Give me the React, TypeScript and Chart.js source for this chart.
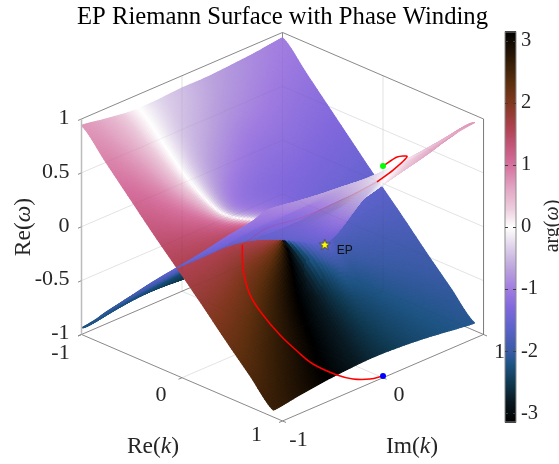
import React, { useEffect, useRef } from "react";
import { Chart, registerables } from "chart.js";

Chart.register(...registerables);

const reNodes = [-1, -0.76, -0.52, -0.28, -0.05, 0.19, 0.43, 0.67, 0.91];
const imNodes = [-1, -0.75, -0.5, -0.25, 0, 0.25, 0.5, 0.75, 1];

// Re(omega) of the main sheet, one row per imNodes entry (the second sheet is its negative)
const sheetRe = [
  [0.94, 0.7, 0.46, 0.22, 0.0, -0.23, -0.47, -0.7, -0.935],
  [0.9, 0.67, 0.44, 0.21, 0.0, -0.22, -0.45, -0.68, -0.9],
  [0.87, 0.65, 0.42, 0.2, 0.0, -0.22, -0.44, -0.65, -0.87],
  [0.87, 0.64, 0.41, 0.19, 0.05, -0.1, -0.4, -0.62, -0.85],
  [0.885, 0.65, 0.42, 0.24, 0.14, 0.07, -0.03, -0.42, -0.84],
  [0.885, 0.65, 0.43, 0.26, 0.15, 0.03, -0.25, -0.55, -0.85],
  [0.9, 0.67, 0.45, 0.25, 0.1, -0.08, -0.32, -0.58, -0.87],
  [0.92, 0.68, 0.45, 0.22, 0.05, -0.15, -0.4, -0.63, -0.9],
  [0.95, 0.71, 0.47, 0.23, 0.0, -0.23, -0.47, -0.7, -0.93],
];
// Im(omega) of the main sheet
const sheetIm = [
  [0.82, 0.82, 0.8, 0.78, 0.88, 0.84, 0.73, 0.62, 0.53],
  [0.52, 0.52, 0.5, 0.5, 0.63, 0.59, 0.48, 0.37, 0.28],
  [0.1, 0.1, 0.1, 0.2, 0.38, 0.34, 0.23, 0.12, 0.03],
  [-0.25, -0.26, -0.28, -0.22, 0.15, 0.09, -0.02, -0.13, -0.22],
  [-0.45, -0.48, -0.55, -0.6, -0.3, -0.16, -0.27, -0.38, -0.47],
  [-0.68, -0.7, -0.8, -0.78, -0.7, -0.41, -0.52, -0.63, -0.72],
  [-0.91, -0.91, -0.95, -0.9, -0.8, -0.66, -0.77, -0.88, -0.97],
  [-1.16, -1.16, -1.15, -1.04, -0.87, -0.91, -1.02, -1.13, -1.22],
  [-1.41, -1.41, -1.4, -1.29, -1.12, -1.16, -1.27, -1.38, -1.47],
];
// Im(omega) of the thin second sheet
const ribbonIm = [
  [-1.2, -1.2, -1.2, -1.25, -1.45, -1.62, -1.45, -1.3, -1.2],
  [-1.05, -1.05, -1.05, -1.05, -1.2, -1.37, -1.2, -1.05, -0.95],
  [-0.9, -0.9, -0.9, -0.9, -0.95, -1.12, -1.0, -0.85, -0.72],
  [-0.7, -0.7, -0.7, -0.7, -0.75, -0.87, -0.85, -0.7, -0.5],
  [-0.55, -0.55, -0.55, -0.55, -0.55, -0.62, -0.6, -0.42, -0.25],
  [-0.45, -0.45, -0.45, -0.4, -0.35, -0.37, -0.3, -0.12, 0.05],
  [-0.35, -0.35, -0.35, -0.2, -0.05, -0.12, 0.02, 0.2, 0.3],
  [-0.3, -0.3, -0.3, -0.1, 0.1, 0.13, 0.3, 0.45, 0.55],
  [-0.25, -0.25, -0.25, 0.0, 0.3, 0.38, 0.55, 0.7, 0.8],
];

// Winding path, visible pieces
const pathLowRe = [1, 0.988, 0.946, 0.887, 0.767, 0.668, 0.542, 0.385, 0.222, 0.07, 0.01];
const pathLowIm = [0, -0.117, -0.245, -0.344, -0.464, -0.524, -0.567, -0.579, -0.545, -0.463, -0.41];
const pathLowZ = [-0.984, -0.97, -0.935, -0.882, -0.78, -0.675, -0.56, -0.432, -0.325, -0.18, 0];
const pathHighRe = [0.363, 0.531, 0.83, 0.977, 1];
const pathHighIm = [0.577, 0.569, 0.41, 0.163, 0];
const pathHighZ = [0.33, 0.51, 0.82, 0.974, 0.965];
const pathHiddenRe = [0.01, -0.16, -0.08, 0.14, 0.363];
const pathHiddenIm = [-0.41, 0, 0.29, 0.507, 0.577];
const pathHiddenZ = [0, -0.08, -0.058, 0.129, 0.33];

const kTicks = [-1, 0, 1];
const zTicks = [-1, -0.5, 0, 0.5, 1];
const cbTicks = [-3, -2, -1, 0, 1, 2, 3];
const epPoint = { re: 0.42, im: 0, z: 0 };

const cmapVal = [-3.1416, -2.8, -2.5, -2.2, -2, -1.6, -1.3, -1, -0.7, -0.4, -0.1, 0, 0.3, 0.6, 1, 1.3, 1.6, 2, 2.3, 2.6, 2.9, 3.1416];
const cmapCol = [
  "#000000", "#0a1a22", "#103a52", "#1f5585", "#3a5ba5", "#5f63cc", "#8068dc", "#a07ce0", "#b9a0dd", "#d6c6e6", "#f5f2f6", "#ffffff",
  "#eccbdc", "#e3a9c6", "#d5709d", "#c4567a", "#ae4250", "#80381f", "#5e3010", "#3a2008", "#1a0f04", "#000000",
];

const rgb = cmapCol.map((h) => [parseInt(h.slice(1, 3), 16), parseInt(h.slice(3, 5), 16), parseInt(h.slice(5, 7), 16)]);
function color(v: number) {
  let i = 0;
  while (i < cmapVal.length - 2 && v > cmapVal[i + 1]) i++;
  const t = Math.max(0, Math.min(1, (v - cmapVal[i]) / (cmapVal[i + 1] - cmapVal[i])));
  const c = rgb[i].map((a, j) => Math.round(a + (rgb[i + 1][j] - a) * t));
  return `rgb(${c[0]},${c[1]},${c[2]})`;
}

const px = (re: number, im: number) => re + im;
const py = (re: number, im: number, z: number) => z - 0.4014 * (re - im);
const P = (re: number, im: number, z: number) => ({ x: px(re, im), y: py(re, im, z) });
const GAP = { x: NaN, y: NaN };
function segs(list: number[][]) {
  const out: any[] = [];
  list.forEach((s) => out.push(P(s[0], s[1], s[2]), P(s[3], s[4], s[5]), GAP));
  return out;
}

const gridSegs: number[][] = [];
zTicks.forEach((z) => {
  if (z > -1 && z < 1) {
    gridSegs.push([-1, -1, z, -1, 1, z]);
    gridSegs.push([-1, 1, z, 1, 1, z]);
  }
});
gridSegs.push([-1, 0, -1, -1, 0, 1], [0, 1, -1, 0, 1, 1], [0, -1, -1, 0, 1, -1], [-1, 0, -1, 1, 0, -1]);
const boxSegs = [
  [-1, -1, 1, -1, 1, 1],
  [-1, 1, 1, 1, 1, 1],
  [1, 1, 1, 1, 1, -1],
  [-1, -1, -1, 1, -1, -1],
  [1, -1, -1, 1, 1, -1],
  [-1, -1, -1, -1, 1, -1],
  [-1, 1, -1, 1, 1, -1],
  [-1, 1, -1, -1, 1, 1],
];
zTicks.forEach((z) => boxSegs.push([-1, -1, z, -1, -1.035, z]));
kTicks.forEach((v) => {
  boxSegs.push([v, -1, -1, v, -1.035, -1]);
  boxSegs.push([1, v, -1, 1.035, v, -1]);
});
const leftEdge = [[-1, -1, -1, -1, -1, 1]];

function cr(a: number, b: number, c: number, d: number, t: number) {
  return 0.5 * (2 * b + (c - a) * t + (2 * a - 5 * b + 4 * c - d) * t * t + (3 * b - a - 3 * c + d) * t * t * t);
}
function sample(tb: number[][], u: number, v: number) {
  const n = tb[0].length,
    m = tb.length;
  const i = Math.min(n - 2, Math.floor(u)),
    j = Math.min(m - 2, Math.floor(v));
  const s = u - i,
    t = v - j;
  const row = (r: number) => {
    const q = tb[Math.max(0, Math.min(m - 1, r))];
    return cr(q[Math.max(0, i - 1)], q[i], q[i + 1], q[Math.min(n - 1, i + 2)], s);
  };
  return cr(row(j - 1), row(j), row(j + 1), row(j + 2), t);
}

function lerp(a: number[], u: number) {
  const i = Math.min(a.length - 2, Math.floor(u));
  return a[i] + (a[i + 1] - a[i]) * (u - i);
}

const surfacePlugin = {
  id: "surface",
  afterDatasetDraw(chart: any, args: any) {
    if (args.index !== 1) return;
    const { ctx, scales } = chart;
    const sx = scales.x,
      sy = scales.y;
    const SUB = 14;
    const nu = (reNodes.length - 1) * SUB,
      nv = (imNodes.length - 1) * SUB;
    const nodes: any[][] = [];
    for (let a = 0; a <= nu; a++) {
      nodes[a] = [];
      for (let b = 0; b <= nv; b++) {
        const u = a / SUB,
          v = b / SUB;
        nodes[a][b] = {
          re: lerp(reNodes, u),
          im: lerp(imNodes, v),
          z: sample(sheetRe, u, v),
          w: sample(sheetIm, u, v),
          w2: sample(ribbonIm, u, v),
        };
      }
    }
    const cells: any[] = [];
    [1, -1].forEach((sgn) => {
      for (let a = 0; a < nu; a++)
        for (let b = 0; b < nv; b++) {
          const q = [nodes[a][b], nodes[a + 1][b], nodes[a + 1][b + 1], nodes[a][b + 1]];
          const pts = q.map((n) => [
            sx.getPixelForValue(px(n.re, n.im)),
            sy.getPixelForValue(py(n.re, n.im, sgn * n.z)),
          ]);
          const re = (q[0].re + q[2].re) / 2,
            im = (q[0].im + q[2].im) / 2;
          const z = (sgn * (q[0].z + q[1].z + q[2].z + q[3].z)) / 4;
          const w = sgn > 0 ? (q[0].w + q[1].w + q[2].w + q[3].w) / 4 : (q[0].w2 + q[1].w2 + q[2].w2 + q[3].w2) / 4;
          cells.push({ pts, d: 0.638 * (re - im) + 0.363 * z, z, col: color(Math.atan2(w, z)) });
        }
    });
    cells.sort((a, b) => a.d - b.d);
    const paint = (g: any, c: any) => {
      g.beginPath();
      g.moveTo(c.pts[0][0], c.pts[0][1]);
      for (let i = 1; i < 4; i++) g.lineTo(c.pts[i][0], c.pts[i][1]);
      g.closePath();
      g.fillStyle = c.col;
      g.strokeStyle = c.col;
      g.fill();
      g.stroke();
    };
    ctx.save();
    ctx.lineWidth = 1.2;
    ctx.lineJoin = "round";
    cells.forEach((c) => paint(ctx, c));
    const layer = document.createElement("canvas");
    layer.width = chart.width;
    layer.height = chart.height;
    const g = layer.getContext("2d")!;
    g.lineWidth = 1.2;
    g.lineJoin = "round";
    cells.forEach((c) => {
      if (c.z < 0) paint(g, c);
    });
    ctx.globalAlpha = 0.1;
    ctx.drawImage(layer, 0, 0);
    ctx.restore();
  },
};

const SERIF = '"Liberation Serif"';
function rich(ctx: any, parts: [string, boolean][], cx: number, cy: number, size: number, rot = 0) {
  ctx.save();
  ctx.translate(cx, cy);
  ctx.rotate(rot);
  ctx.textAlign = "left";
  ctx.textBaseline = "middle";
  let w = 0;
  const font = (it: boolean) => `${it ? "italic " : ""}${size}px ${SERIF}`;
  parts.forEach(([t, it]) => {
    ctx.font = font(it);
    w += ctx.measureText(t).width;
  });
  let x = -w / 2;
  parts.forEach(([t, it]) => {
    ctx.font = font(it);
    ctx.fillText(t, x, 0);
    x += ctx.measureText(t).width;
  });
  ctx.restore();
}

const reLabelDx = [-21, -21, -26];
const reLabelDy = [19, 17, 14];
const textPlugin = {
  id: "texts",
  afterDraw(chart: any) {
    const { ctx, scales } = chart;
    const X = (re: number, im: number) => scales.x.getPixelForValue(px(re, im));
    const Y = (re: number, im: number, z: number) => scales.y.getPixelForValue(py(re, im, z));
    ctx.save();
    ctx.fillStyle = "#000";
    ctx.font = `24.7px ${SERIF}`;
    ctx.textAlign = "center";
    ctx.textBaseline = "alphabetic";
    ctx.fillText("EP Riemann Surface with Phase Winding", 282.5, 24);

    ctx.fillStyle = "#262626";
    ctx.font = `22px ${SERIF}`;
    ctx.textAlign = "right";
    ctx.textBaseline = "middle";
    zTicks.forEach((z) => {
      ctx.fillText(String(z), X(-1, -1) - 12, Y(-1, -1, z) - 1);
    });
    ctx.textAlign = "center";
    kTicks.forEach((v, i) => {
      ctx.fillText(String(v), X(v, -1) + reLabelDx[i], Y(v, -1, -1) + reLabelDy[i]);
      ctx.fillText(String(v), X(1, v) + 16, Y(1, v, -1) + (i === 0 ? 19 : 17.5));
    });
    rich(ctx, [["Re(", false], ["k", true], [")", false]], 153, 447, 23.5);
    rich(ctx, [["Im(", false], ["k", true], [")", false]], 412, 447, 23.5);
    rich(ctx, [["Re(", false], ["ω", true], [")", false]], 24, 227, 23.5, -Math.PI / 2);

    const cb = scales.cb;
    ctx.font = `20.5px ${SERIF}`;
    ctx.textAlign = "left";
    cbTicks.forEach((v) => {
      ctx.fillText(String(v), 521, cb.getPixelForValue(v));
    });
    rich(ctx, [["arg(", false], ["ω", true], [")", false]], 553, 226, 20, -Math.PI / 2);

    ctx.fillStyle = "#111";
    ctx.font = '12px "Liberation Sans"';
    ctx.textAlign = "left";
    ctx.fillText("EP", X(epPoint.re, epPoint.im) + 12, Y(epPoint.re, epPoint.im, epPoint.z) + 6);

    // colorbar
    const t = cb.getPixelForValue(Math.PI),
      b = cb.getPixelForValue(-Math.PI);
    for (let y = Math.floor(t); y < b; y++) {
      ctx.fillStyle = color(cb.getValueForPixel(y + 0.5));
      ctx.fillRect(505, y, 11, 1);
    }
    ctx.strokeStyle = "#8c8c8c";
    ctx.lineWidth = 1;
    ctx.strokeRect(505, t, 11, b - t);
    ctx.strokeStyle = "#404040";
    cbTicks.forEach((v) => {
      const y = Math.round(cb.getPixelForValue(v)) + 0.5;
      ctx.beginPath();
      ctx.moveTo(505, y);
      ctx.lineTo(508, y);
      ctx.moveTo(513, y);
      ctx.lineTo(516, y);
      ctx.stroke();
    });
    ctx.restore();
  },
};

function starCanvas() {
  const c = document.createElement("canvas");
  c.width = 14;
  c.height = 14;
  const g = c.getContext("2d")!;
  g.beginPath();
  for (let i = 0; i < 10; i++) {
    const r = i % 2 ? 2.3 : 5.6;
    const a = -Math.PI / 2 + (i * Math.PI) / 5;
    g.lineTo(7 + r * Math.cos(a), 7 + r * Math.sin(a));
  }
  g.closePath();
  g.fillStyle = "#ffff00";
  g.fill();
  g.strokeStyle = "#333";
  g.lineWidth = 0.7;
  g.stroke();
  return c;
}

const lineDs = (data: any[], color: string, width: number, order: number, extra: any = {}) => ({
  type: "scatter",
  data,
  showLine: true,
  borderColor: color,
  borderWidth: width,
  pointRadius: 0,
  spanGaps: false,
  order,
  ...extra,
});

export default function App() {
  const ref = useRef<HTMLCanvasElement>(null);
  useEffect(() => {
    const chart = new Chart(ref.current!, {
      type: "scatter",
      data: {
        datasets: [
          lineDs(segs(gridSegs), "#e8e8e8", 0.8, 10),
          lineDs(segs(boxSegs), "#8f8f8f", 1, 9),
          lineDs(segs(leftEdge), "#bcbcbc", 1.5, 8.5),
          lineDs(segs(gridSegs.concat(boxSegs)), "rgba(60,60,60,0.07)", 0.8, 8),
          lineDs(pathHiddenRe.map((r, i) => P(r, pathHiddenIm[i], pathHiddenZ[i])), "rgba(255,0,0,0.12)", 1.2, 7, { tension: 0.3 }),
          lineDs(pathLowRe.map((r, i) => P(r, pathLowIm[i], pathLowZ[i])), "#ff0000", 1.5, 6, { tension: 0.4 }),
          lineDs(pathHighRe.map((r, i) => P(r, pathHighIm[i], pathHighZ[i])), "#ff0000", 1.5, 6, { tension: 0.25 }),
          {
            type: "scatter",
            data: [P(1, 0, -0.984)],
            pointRadius: 3,
            pointBackgroundColor: "#0000ff",
            pointBorderWidth: 0,
            order: 5,
          },
          {
            type: "scatter",
            data: [P(1, 0, 0.965)],
            pointRadius: 3,
            pointBackgroundColor: "#00ff00",
            pointBorderWidth: 0,
            order: 5,
          },
          {
            type: "scatter",
            data: [P(epPoint.re, epPoint.im, epPoint.z)],
            pointStyle: starCanvas(),
            order: 4,
          },
        ] as any,
      },
      options: {
        animation: false,
        responsive: false,
        devicePixelRatio: 1,
        layout: { padding: 0, autoPadding: false },
        plugins: { legend: { display: false }, tooltip: { enabled: false } },
        events: [],
        scales: {
          x: { type: "linear", display: false, min: -2.811, max: 2.751 },
          y: { type: "linear", display: false, min: -2.202, max: 2.104 },
          cb: { type: "linear", display: false, min: -3.818, max: 3.657, axis: "y" } as any,
        },
      } as any,
      plugins: [surfacePlugin, textPlugin],
    });
    return () => chart.destroy();
  }, []);
  return (
    <div style={{ position: "absolute", left: 0, top: 0, width: 559, height: 464, background: "#fff" }}>
      <canvas ref={ref} width={559} height={464} style={{ display: "block" }} />
    </div>
  );
}
